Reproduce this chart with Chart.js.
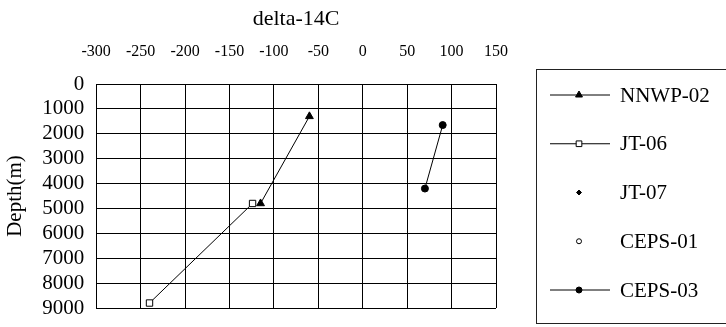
<!DOCTYPE html>
<html>
<head>
<meta charset="utf-8">
<script src="https://cdn.jsdelivr.net/npm/chart.js@4/dist/chart.umd.min.js"></script>
<style>
  body { margin: 0; background: #fff; }
</style>
</head>
<body>
<canvas id="c14Chart" width="726" height="327"></canvas>
<script>
// values (x = delta-14C, y = depth in m)
const seriesNames = ['NNWP-02', 'JT-06', 'JT-07', 'CEPS-01', 'CEPS-03'];
const nnwpDelta = [-60, -115];
const nnwpDepth = [1300, 4800];
const jt06Delta = [-240, -124];
const jt06Depth = [8800, 4800];
const jt07Delta = [];
const jt07Depth = [];
const ceps01Delta = [];
const ceps01Depth = [];
const ceps03Delta = [70, 90];
const ceps03Depth = [4200, 1650];

const xTicks = [-300, -250, -200, -150, -100, -50, 0, 50, 100, 150];
const yTicks = [0, 1000, 2000, 3000, 4000, 5000, 6000, 7000, 8000, 9000];

const toPoints = (xs, ys) => xs.map((x, i) => ({ x, y: ys[i] }));

Chart.defaults.font.family = "'Liberation Serif', 'Times New Roman', serif";
Chart.defaults.color = '#000';

// legend drawn by hand: line with the marker in the middle, inside a box
const boxLegend = {
    id: 'boxLegend',
    afterDraw(chart) {
        const ctx = chart.ctx;
        ctx.save();
        ctx.strokeStyle = '#222';
        ctx.lineWidth = 1;
        ctx.strokeRect(536.5, 69.5, 200, 254);

        chart.data.datasets.forEach((ds, i) => {
            const y = 95 + i * 48.75;
            if (ds.showLine !== false) {
                ctx.beginPath();
                ctx.moveTo(550, y);
                ctx.lineTo(610, y);
                ctx.strokeStyle = '#000';
                ctx.lineWidth = 1;
                ctx.stroke();
            }
            ctx.fillStyle = ds.pointBackgroundColor;
            ctx.strokeStyle = ds.pointBorderColor;
            ctx.lineWidth = 1;
            Chart.helpers.drawPoint(ctx, {
                pointStyle: ds.pointStyle,
                radius: Math.max(ds.pointRadius - 0.5, 2.5),
                rotation: ds.pointRotation || 0,
                borderWidth: 1
            }, 579, y);

            ctx.fillStyle = '#000';
            ctx.font = "21px 'Liberation Serif', serif";
            ctx.textAlign = 'left';
            ctx.textBaseline = 'middle';
            ctx.fillText(ds.label, 620, y + 1);
        });
        ctx.restore();
    }
};

const ctx = document.getElementById('c14Chart').getContext('2d');

new Chart(ctx, {
    type: 'scatter',
    data: {
        datasets: [{
            label: seriesNames[0],
            data: toPoints(nnwpDelta, nnwpDepth),
            showLine: true,
            borderColor: '#000',
            borderWidth: 1,
            pointStyle: 'triangle',
            pointRadius: 4.5,
            pointBackgroundColor: '#000',
            pointBorderColor: '#000'
        }, {
            label: seriesNames[1],
            data: toPoints(jt06Delta, jt06Depth),
            showLine: true,
            borderColor: '#000',
            borderWidth: 1,
            pointStyle: 'rect',
            pointRadius: 4.5,
            pointBackgroundColor: '#fff',
            pointBorderColor: '#000'
        }, {
            label: seriesNames[2],
            data: toPoints(jt07Delta, jt07Depth),
            showLine: false,
            pointStyle: 'rectRot',
            pointRadius: 3,
            pointBackgroundColor: '#000',
            pointBorderColor: '#000'
        }, {
            label: seriesNames[3],
            data: toPoints(ceps01Delta, ceps01Depth),
            showLine: false,
            pointStyle: 'circle',
            pointRadius: 3,
            pointBackgroundColor: '#fff',
            pointBorderColor: '#000'
        }, {
            label: seriesNames[4],
            data: toPoints(ceps03Delta, ceps03Depth),
            showLine: true,
            borderColor: '#000',
            borderWidth: 1,
            pointStyle: 'circle',
            pointRadius: 3.5,
            pointBackgroundColor: '#000',
            pointBorderColor: '#000'
        }]
    },
    options: {
        responsive: false,
        animation: false,
        layout: { padding: { top: 6, left: 0, right: 230, bottom: 19 } },
        plugins: {
            legend: { display: false },
            tooltip: { enabled: false }
        },
        scales: {
            x: {
                type: 'linear',
                position: 'top',
                min: xTicks[0],
                max: xTicks[xTicks.length - 1],
                afterBuildTicks: axis => { axis.ticks = xTicks.map(v => ({ value: v })); },
                ticks: { font: { size: 16 }, padding: 23, maxRotation: 0, autoSkip: false, callback: v => String(v) },
                grid: { color: '#000', lineWidth: 1, drawTicks: false },
                border: { color: '#000' },
                title: {
                    display: true,
                    text: 'delta-14C',
                    font: { size: 22 },
                    padding: { top: 0, bottom: -13.6 }
                }
            },
            y: {
                type: 'linear',
                reverse: true,
                min: yTicks[0],
                max: yTicks[yTicks.length - 1],
                afterBuildTicks: axis => { axis.ticks = yTicks.map(v => ({ value: v })); },
                afterFit: axis => { axis.paddingBottom = 0; },
                ticks: { font: { size: 21 }, padding: 12, autoSkip: false, callback: v => String(v) },
                grid: { color: '#000', lineWidth: 1, drawTicks: false },
                border: { color: '#000' },
                title: {
                    display: true,
                    text: 'Depth(m)',
                    font: { size: 21 },
                    padding: { top: 3, bottom: 2 }
                }
            }
        }
    },
    plugins: [boxLegend]
});
</script>
</body>
</html>
